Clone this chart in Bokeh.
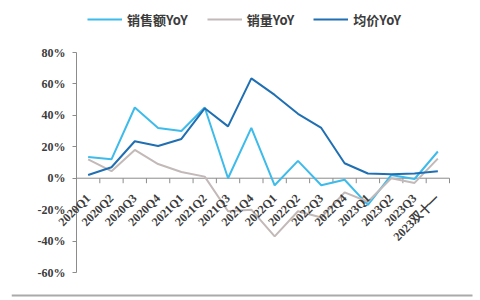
import math
from bokeh.plotting import figure
from bokeh.models import (Range1d, FixedTicker, Legend, LegendItem,
                          PolyAnnotation, LabelSet, ColumnDataSource)
from bokeh.embed import file_html
from bokeh.resources import INLINE

categories = ["2020Q1", "2020Q2", "2020Q3", "2020Q4", "2021Q1", "2021Q2", "2021Q3",
              "2021Q4", "2022Q1", "2022Q2", "2022Q3", "2022Q4", "2023Q1", "2023Q2",
              "2023Q3", "2023双十一"]
sales_yoy = [13.5, 12, 45, 32, 30, 45, 0, 32, -4.5, 11, -4.5, -1, -17, 2, -0.5, 17]
volume_yoy = [12, 4.5, 18, 9, 4, 1, -21, -20, -37, -21, -25, -9, -15, 0, -3, 12.5]
price_yoy = [2, 7, 23.5, 20.5, 25, 44.5, 33, 63.5, 53, 41, 32, 9.5, 3, 2.5, 3, 4.5]
y_ticks = [-60, -40, -20, 0, 20, 40, 60, 80]
y_tick_labels = [f"{t}%" for t in y_ticks]
series_names = ["销售额YoY", "销量YoY", "均价YoY"]

n = len(categories)
xs = [i + 0.5 for i in range(n)]
bounds = list(range(n + 1))

# frame covers the whole canvas (from x=11); axis origin at pixel (76, 178)
PX_X = 373 / n            # pixels per category
PX_Y = 220 / 140          # pixels per percentage point
x_range = Range1d(-(76 - 11) / PX_X, n + (480 - 449) / PX_X)
y_range = Range1d(-60 - 28 / PX_Y, 80 + 52 / PX_Y)

p = figure(width=480, height=300, output_backend="svg", toolbar_location=None,
           x_range=x_range, y_range=y_range, x_axis_location=None,
           min_border_left=11, min_border_right=0, min_border_top=0, min_border_bottom=0)
p.outline_line_color = None
p.xgrid.visible = False
p.ygrid.visible = False

TXT = "#3c3c3c"
AX = "#8c8c8c"
FONT = "Liberation Sans"

# y axis line and ticks, fixed at x = 0
ya = p.yaxis[0]
ya.fixed_location = 0
ya.bounds = (y_ticks[0], y_ticks[-1])
ya.ticker = FixedTicker(ticks=y_ticks)
ya.axis_line_color = AX
ya.major_tick_line_color = AX
ya.major_tick_in = 0
ya.major_tick_out = 4
ya.minor_tick_line_color = None
ya.major_label_text_font_size = "1px"
ya.major_label_text_alpha = 0
ya.major_label_standoff = 0

# y tick labels
ylab_src = ColumnDataSource(dict(x=[0] * len(y_ticks), y=y_ticks, text=y_tick_labels))
p.add_layout(LabelSet(x="x", y="y", text="text", source=ylab_src,
                      text_align="right", text_baseline="middle", x_offset=-11,
                      text_font=FONT, text_font_style="bold",
                      text_font_size="12px", text_color=TXT))

# x axis line at zero with category boundary ticks
p.segment(x0=[bounds[0]], y0=[0], x1=[bounds[-1]], y1=[0], line_color=AX, line_width=1)
p.ray(x=bounds, y=[0] * len(bounds), length=5, length_units="screen",
      angle=-math.pi / 2, line_color=AX, line_width=1)

colors = ["#3dbbea", "#c2b9b8", "#1f6fb2"]
renderers = []
for ys, c in zip([sales_yoy, volume_yoy, price_yoy], colors):
    r = p.line(xs, ys, line_color=c, line_width=2)
    renderers.append(r)

# category labels hanging under the zero line
xlab_src = ColumnDataSource(dict(x=xs, y=[0] * n, text=categories))
p.add_layout(LabelSet(x="x", y="y", text="text", source=xlab_src, angle=math.pi / 4,
                      text_align="right", text_baseline="middle",
                      x_offset=0, y_offset=-18,
                      text_font=FONT, text_font_style="bold",
                      text_font_size="12px", text_color=TXT))

legend = Legend(items=[LegendItem(label=nm, renderers=[r]) for nm, r in zip(series_names, renderers)],
                orientation="horizontal", location=(76, 271))
legend.label_text_font = "Noto Sans CJK SC"
legend.label_text_font_style = "bold"
legend.label_text_font_size = "13px"
legend.label_text_color = TXT
legend.glyph_width = 35
legend.label_standoff = 5
legend.spacing = 19
legend.padding = 0
legend.margin = 0
legend.border_line_color = None
legend.background_fill_alpha = 0
p.add_layout(legend)

bottom_line = PolyAnnotation(xs=[0, 461, 461, 0], ys=[4, 4, 6, 6],
                             xs_units="screen", ys_units="screen",
                             fill_color="#2a2a2a", line_color=None)
p.add_layout(bottom_line)

open("out.html", "w").write(file_html(p, INLINE))
